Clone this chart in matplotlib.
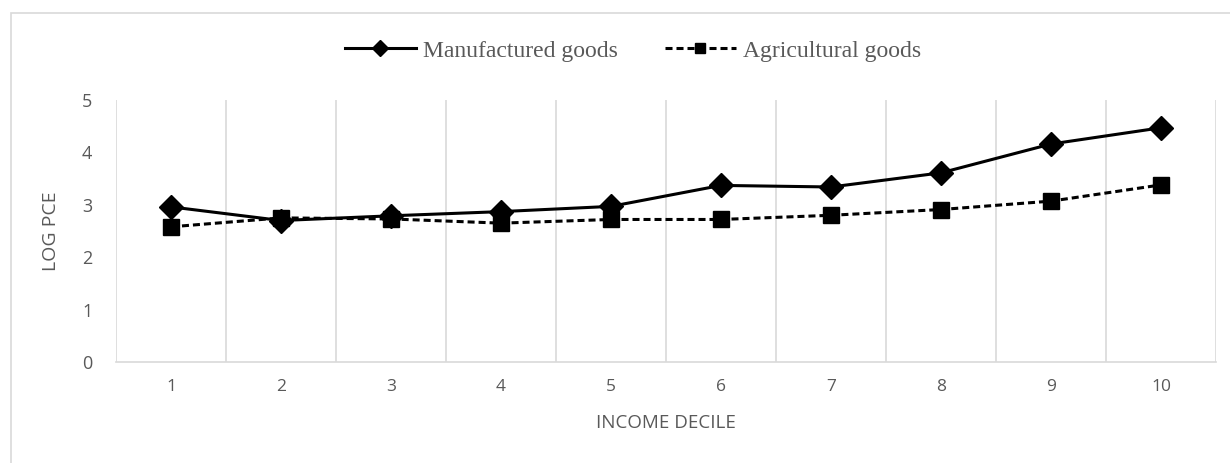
import numpy as np
import matplotlib.pyplot as plt
from matplotlib.patches import Rectangle

# log per-capita expenditure by income decile
deciles = np.arange(1, 11)
manufactured = [2.96, 2.70, 2.79, 2.87, 2.97, 3.37, 3.34, 3.61, 4.16, 4.47]
agricultural = [2.58, 2.75, 2.73, 2.65, 2.72, 2.72, 2.80, 2.91, 3.07, 3.38]

grey_text = '#595959'
grid_col = '#d9d9d9'

fig = plt.figure(figsize=(12.3, 4.63), dpi=100)
ax = fig.add_axes([116 / 1230, 1 - 362 / 463, 1100 / 1230, 262 / 463])

# outer chart border
fig.patches.append(Rectangle((11 / 1230, -0.1), 1.2, 1 - 13 / 463 + 0.1, transform=fig.transFigure,
                             fill=False, edgecolor=grid_col, lw=1.2))

ax.plot(deciles, manufactured, '-', color='black', lw=2.2, marker='D', ms=12,
        label='Manufactured goods', zorder=3)
ax.plot(deciles, agricultural, '--', color='black', lw=2.2, marker='s', ms=11.5,
        dashes=(2.3, 1.3), label='Agricultural goods', zorder=3)

ax.set_xlim(0.5, 10.5)
ax.set_ylim(0, 5)
ax.set_xticks(deciles)
ax.set_xticks(np.arange(0.5, 11, 1), minor=True)
ax.set_yticks(range(6))
ax.grid(True, which='minor', axis='x', color=grid_col, lw=1.2)
ax.tick_params(which='both', length=0)
ax.tick_params(axis='x', pad=12, labelsize=12.5, colors=grey_text)
ax.tick_params(axis='y', pad=17, labelsize=13, colors=grey_text)
for s in ['top', 'right', 'left']:
    ax.spines[s].set_visible(False)
ax.spines['bottom'].set_color(grid_col)
ax.spines['bottom'].set_linewidth(1.2)

for lbl in ax.get_xticklabels() + ax.get_yticklabels():
    lbl.set_family('Open Sans')

ax.set_xlabel('INCOME DECILE', family='Open Sans', fontsize=13.5, color=grey_text, labelpad=14)
ax.set_ylabel('LOG PCE', family='Open Sans', fontsize=14, color=grey_text, labelpad=16)

fig.legend(loc='center', bbox_to_anchor=(633 / 1230, 1 - 51 / 463), ncol=2, frameon=False,
           prop={'family': 'Liberation Serif', 'size': 17}, labelcolor=grey_text,
           handlelength=3.0, columnspacing=2.0, handletextpad=0.3, markerscale=0.65)

fig.savefig('out.png', dpi=100)
